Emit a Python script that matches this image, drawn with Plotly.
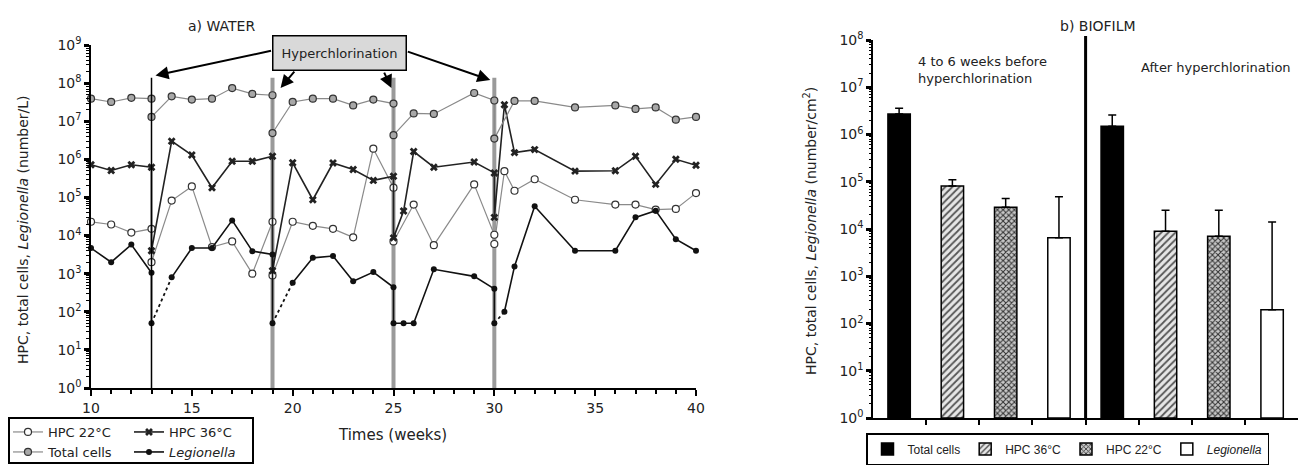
import plotly.graph_objects as go

W, H = 1306, 468
FONT = "DejaVu Sans, Liberation Sans, Arial, sans-serif"
NARROW = "Liberation Sans, Arial, sans-serif"
INK = "#222222"


def px(x):
    return x / W


def py(y):
    return 1 - y / H


# ---------- a) WATER : weekly counts (number/L) ----------
tc_weeks = [10, 11, 12, 13, 13, 14, 15, 16, 17, 18, 19, 19, 20, 21, 22, 23, 24, 25, 25, 26,
            27, 29, 30, 30, 31, 32, 34, 36, 37, 38, 39, 40]
tc_vals = [3.9e7, 3.2e7, 4.1e7, 3.9e7, 1.3e7, 4.5e7, 3.7e7, 3.9e7, 7.4e7, 5.2e7,
           4.8e7, 4.9e6, 3.2e7, 3.9e7, 3.9e7, 2.6e7, 3.7e7, 2.9e7, 4.3e6, 1.6e7,
           1.55e7, 5.5e7, 3.5e7, 3.5e6, 3.4e7, 3.4e7, 2.3e7, 2.6e7, 2.1e7, 2.3e7,
           1.1e7, 1.3e7]

hpc36_weeks = [10, 11, 12, 13, 13, 14, 15, 16, 17, 18, 19, 19, 20, 21, 22, 23, 24, 25, 25, 25.5,
               26, 27, 29, 30, 30, 30.5, 31, 32, 34, 36, 37, 38, 39, 40]
hpc36_vals = [7.2e5, 5.1e5, 7.2e5, 6.2e5, 4e3, 3e6, 1.3e6, 1.8e5, 8.9e5, 8.9e5,
              1.2e6, 1.2e3, 8.1e5, 8.7e4, 8e5, 5.4e5, 2.8e5, 3.6e5, 8.7e3, 4.4e4,
              1.6e6, 6.2e5, 8.5e5, 4.4e5, 3e4, 2.7e7, 1.5e6, 1.8e6, 4.9e5, 5e5,
              1.2e6, 2.2e5, 1e6, 7e5]

hpc22_weeks = [10, 11, 12, 13, 13, 14, 15, 16, 17, 18, 19, 19, 20, 21, 22, 23, 24, 25, 25, 26,
               27, 29, 30, 30, 30.5, 31, 32, 34, 36, 37, 38, 39, 40]
hpc22_vals = [2.3e4, 1.95e4, 1.2e4, 1.5e4, 2e3, 8.3e4, 1.95e5, 5e3, 7e3, 1e3,
              2.3e4, 9e2, 2.3e4, 1.8e4, 1.5e4, 9e3, 1.9e6, 1.8e5, 7e3, 6.5e4,
              5.6e3, 2.2e5, 1.05e4, 6e3, 4.9e5, 1.5e5, 3e5, 8.7e4, 6.5e4, 6.5e4,
              4.8e4, 5e4, 1.3e5]

legio_weeks = [10, 11, 12, 13, 13, None, 14, 15, 16, 17, 18, 19, 19, None, 20, 21, 22, 23, 24,
               25, 25, 25.5, 26, 27, 29, 30, 30, None, 30.5, 31, 32, 34, 36, 37, 38, 39, 40]
legio_vals = [4.7e3, 2e3, 5.8e3, 1.05e3, 50, None, 8e2, 4.7e3, 4.7e3, 2.5e4, 3.9e3,
              3.2e3, 50, None, 5.8e2, 2.6e3, 2.9e3, 6.3e2, 1.1e3,
              4.4e2, 50, 50, 50, 1.3e3, 8.5e2, 4e2, 50, None,
              100, 1.55e3, 5.9e4, 4e3, 4e3, 3e4, 4.5e4, 8e3, 4e3]
# dotted recovery segments right after hyperchlorination
legio_gap_weeks = [13, 14, None, 19, 20, None, 30, 30.5]
legio_gap_vals = [50, 8e2, None, 50, 5.8e2, None, 50, 100]

hyper_weeks = [13, 19, 25, 30]

# ---------- b) BIOFILM : mean and upper error (number/cm2) ----------
bar_names = ["Total cells", "HPC 36°C", "HPC 22°C", "Legionella"]
periods = ["before", "after"]
before_mean = [2.7e6, 8.1e4, 2.9e4, 6.5e3]
before_top = [3.6e6, 1.1e5, 4.4e4, 4.8e4]
after_mean = [1.5e6, 9e3, 7e3, 1.95e2]
after_top = [2.6e6, 2.5e4, 2.5e4, 1.4e4]

y_exp_left = list(range(0, 10))
y_exp_right = list(range(0, 9))

fig = go.Figure()

# ---- water series ----
fig.add_trace(go.Scatter(
    x=hpc22_weeks, y=hpc22_vals, name="HPC 22°C", mode="lines+markers",
    line=dict(color="#8a8a8a", width=1.2),
    marker=dict(symbol="circle", size=7, color="white", line=dict(color="#333", width=1.2)),
    legend="legend", cliponaxis=False
))
fig.add_trace(go.Scatter(
    x=hpc36_weeks, y=hpc36_vals, name="HPC 36°C", mode="lines+markers",
    line=dict(color="#222", width=1.6),
    marker=dict(symbol="x", size=7, color="#222", line=dict(width=0)),
    legend="legend", cliponaxis=False
))
fig.add_trace(go.Scatter(
    x=tc_weeks, y=tc_vals, name="Total cells", mode="lines+markers",
    line=dict(color="#8a8a8a", width=1.2),
    marker=dict(symbol="circle", size=7, color="#a8a8a8", line=dict(color="#333", width=1.2)),
    legend="legend3", cliponaxis=False
))
fig.add_trace(go.Scatter(
    x=legio_weeks, y=legio_vals, name="<i>Legionella</i>", mode="lines+markers",
    line=dict(color="#111", width=1.6), connectgaps=False,
    marker=dict(symbol="circle", size=6, color="#111"),
    legend="legend3", cliponaxis=False
))
fig.add_trace(go.Scatter(
    x=legio_gap_weeks, y=legio_gap_vals, mode="lines", showlegend=False,
    line=dict(color="#111", width=1.8, dash="dot"), connectgaps=False
))

# ---- biofilm bars ----
cats = [f"{p} {n}" for p in periods for n in bar_names]
styles = {
    "Total cells": dict(color="black"),
    "HPC 36°C": dict(color="#e6e6e6", pattern=dict(shape="/", fgcolor="#555", bgcolor="#e6e6e6", size=5, solidity=0.35)),
    "HPC 22°C": dict(color="#bdbdbd", pattern=dict(shape="x", fgcolor="#333", bgcolor="#c8c8c8", size=4, solidity=0.45)),
    "Legionella": dict(color="white"),
}
for i, n in enumerate(bar_names):
    means = [before_mean[i], after_mean[i]]
    tops = [before_top[i], after_top[i]]
    fig.add_trace(go.Bar(
        x=[f"{p} {n}" for p in periods], y=means,
        name="<i>Legionella</i>" if n == "Legionella" else n,
        width=0.42, xaxis="x2", yaxis="y2", legend="legend2",
        marker=dict(line=dict(color="black", width=1.5), **styles[n]),
        error_y=dict(type="data", symmetric=False, array=[t - m for t, m in zip(tops, means)],
                     arrayminus=[0, 0], color="black", thickness=1.5, width=4),
        base=1,
    ))

tick_font = dict(family=FONT, size=14, color=INK)
minor_left = [m * 10 ** e for e in range(0, 9) for m in range(2, 10)]
minor_right = [m * 10 ** e for e in range(0, 8) for m in range(2, 10)]
legend_font = dict(family=FONT, size=13, color=INK)

fig.update_layout(
    template="none",
    width=W, height=H, margin=dict(l=0, r=0, t=0, b=0, autoexpand=False),
    paper_bgcolor="white", plot_bgcolor="white",
    font=dict(family=FONT, size=13, color=INK),
    barmode="overlay",
    xaxis=dict(domain=[px(83), px(688)], range=[10, 40], showgrid=False, zeroline=False,
               automargin=False, showline=True, linecolor="black", linewidth=1.5,
               ticks="outside", ticklen=6, tickwidth=2, tickcolor="black", dtick=5, tick0=10,
               minor=dict(ticks="outside", ticklen=4, tickwidth=1.5, dtick=1, tickcolor="black"),
               tickfont=tick_font),
    yaxis=dict(domain=[py(380), py(37)], type="log", range=[0, 9], showgrid=False, zeroline=False,
               automargin=False, showline=True, linecolor="black", linewidth=1.5,
               tickvals=[10 ** e for e in y_exp_left],
               ticktext=[f"10<sup>{e}</sup>" for e in y_exp_left],
               ticks="outside", ticklen=5, tickwidth=3, tickcolor="black",
               minor=dict(ticks="outside", ticklen=3, tickwidth=1, tickmode="array",
                          tickvals=minor_left, tickcolor="black"),
               tickfont=tick_font),
    xaxis2=dict(domain=[px(865), px(1295)], anchor="y2", type="category", automargin=False,
                categoryorder="array", categoryarray=cats, range=[-0.49, 7.58],
                showticklabels=False, tickson="boundaries", ticks="outside", ticklen=5,
                tickwidth=1.5, tickcolor="black", showgrid=False,
                showline=True, linecolor="black", linewidth=1.5),
    yaxis2=dict(domain=[py(410), py(32)], anchor="x2", type="log", range=[0, 8], automargin=False,
                showgrid=False, zeroline=False, showline=True, linecolor="black", linewidth=1.5,
                tickvals=[10 ** e for e in y_exp_right],
                ticktext=[f"10<sup>{e}</sup>" for e in y_exp_right],
                ticks="outside", ticklen=5, tickwidth=3, tickcolor="black",
                minor=dict(ticks="outside", ticklen=2, tickwidth=1, tickmode="array",
                           tickvals=minor_right, tickcolor="black"),
                tickfont=tick_font),
    legend=dict(orientation="h", x=0, y=py(409), xanchor="left", yanchor="top",
                itemwidth=30, entrywidth=76, bgcolor="rgba(0,0,0,0)", font=legend_font),
    legend3=dict(orientation="h", x=0, y=py(429), xanchor="left", yanchor="top",
                 itemwidth=30, entrywidth=76, bgcolor="rgba(0,0,0,0)", font=legend_font),
    legend2=dict(orientation="h", x=px(858), y=py(425), xanchor="left", yanchor="top",
                 itemwidth=30, bordercolor="black", borderwidth=1.5, bgcolor="white",
                 font=dict(family=NARROW, size=12, color=INK)),
)

# hyperchlorination lines
for w in hyper_weeks:
    first = w == hyper_weeks[0]
    fig.add_shape(type="line", xref="x", yref="y", x0=w, x1=w, y0=1, y1=10 ** 8.14,
                  line=dict(color="black" if first else "#9a9a9a", width=1.5 if first else 4),
                  layer="above" if first else "below")

# legend frame (left)
fig.add_shape(type="rect", xref="paper", yref="paper", x0=px(1), x1=px(245), y0=py(455), y1=py(410),
              line=dict(color="black", width=2))

# separator in biofilm panel
fig.add_shape(type="line", xref="x2", yref="paper", x0=3.5, x1=3.5, y0=py(410), y1=py(28),
              line=dict(color="black", width=3))

# annotation box + arrows
fig.add_annotation(x=px(331.5), y=py(44.5), xref="paper", yref="paper", xanchor="center", yanchor="middle",
                   text="Hyperchlorination", showarrow=False, bgcolor="#d9d9d9", bordercolor="black",
                   borderwidth=1.5, width=128, height=29, borderpad=2, font=dict(size=13, color=INK))
arrows = [(13.2, 8.2, 117, -25), (19.4, 7.87, 15, -18), (24.9, 7.87, -8, -17), (29.8, 8.08, -84, -29)]
for ax_w, ay_l, dx, dy in arrows:
    fig.add_annotation(x=ax_w, y=ay_l, xref="x", yref="y", ax=dx, ay=dy, text="",
                       showarrow=True, arrowhead=2, arrowsize=1.3, arrowwidth=2, arrowcolor="black")


def label(x, y, text, size=14, **kw):
    opts = dict(xanchor="center", yanchor="middle")
    opts.update(kw)
    fig.add_annotation(x=px(x), y=py(y), xref="paper", yref="paper", text=text, showarrow=False,
                       font=dict(size=size, color=INK), **opts)


label(213, 18, "a) WATER", 14)
label(1090, 18, "b) BIOFILM", 14)
label(385, 427, "Times (weeks)", 15)
label(15, 222, "HPC, total cells, <i>Legionella</i> (number/L)", 14, textangle=-90)
label(802, 223, "HPC, total cells, <i>Legionella</i> (number/cm<sup>2</sup>)", 14, textangle=-90)
label(908, 44, "4 to 6 weeks before<br>hyperchlorination", 13, xanchor="left", yanchor="top", align="left")
label(1208, 60, "After hyperchlorination", 13)

fig.write_html("out.html")
